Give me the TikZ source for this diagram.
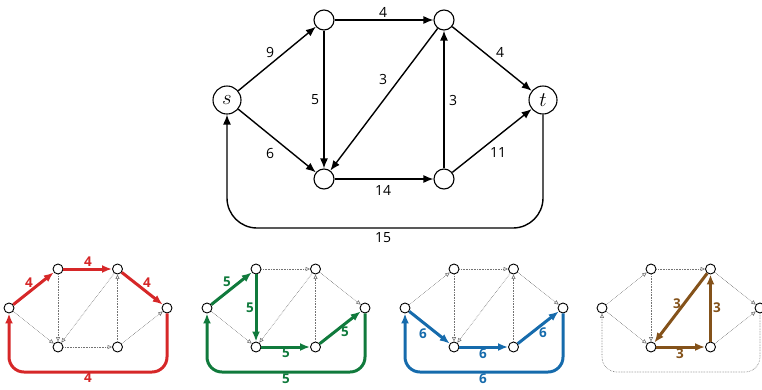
\documentclass[tikz,border=0pt]{standalone}
\usepackage{fontspec}
\setmainfont{Open Sans}
\usetikzlibrary{arrows.meta}

\definecolor{flowred}{RGB}{214,39,40}
\definecolor{flowgreen}{RGB}{16,122,60}
\definecolor{flowblue}{RGB}{22,107,172}
\definecolor{flowbrown}{RGB}{132,82,26}

\begin{document}
\begin{tikzpicture}[x=1pt, y=-1pt,
    vtx/.style={draw=black, fill=white, circle, line width=1.1pt, minimum size=20pt, inner sep=0pt},
    term/.style={vtx, minimum size=28pt, font=\fontsize{20}{22}\selectfont},
    edge/.style={line width=1.4pt, -{Latex[length=10pt,width=8pt]}},
    weight/.style={font=\fontsize{14}{16}\selectfont, inner sep=0pt},
    dot/.style={draw=black, fill=white, circle, line width=0.9pt, minimum size=10pt, inner sep=0pt},
    faint/.style={draw=black!55, line width=0.6pt, densely dotted, -{Triangle[open, length=4.5pt, width=4pt]}},
    flow/.style={line width=3pt, -{Latex[length=10pt,width=8pt]}},
    flowlabel/.style={font=\bfseries\fontsize{13.5}{15}\selectfont, inner sep=0pt}
]
\useasboundingbox (0,0) rectangle (762,389);

% Main network
\node[term] (s) at (227,100) {$s$};
\node[vtx] (a) at (324,20) {};
\node[vtx] (b) at (444,20) {};
\node[term] (t) at (543,100) {$t$};
\node[vtx] (c) at (324,179) {};
\node[vtx] (d) at (444,179) {};
\coordinate (loop) at (385,228);

\draw[edge] (s) -- (a);
\draw[edge] (s) -- (c);
\draw[edge] (a) -- (b);
\draw[edge] (a) -- (c);
\draw[edge] (b) -- (c);
\draw[edge] (d) -- (b);
\draw[edge] (b) -- (t);
\draw[edge] (d) -- (t);
\draw[edge] (c) -- (d);
\draw[edge, rounded corners=30pt] (t) -- (t |- loop) -- (s |- loop) -- (s);

% Capacities
\node[weight] (w-sa) at (270,52) {9};
\node[weight] (w-sc) at (270,153) {6};
\node[weight] (w-ab) at (383,12) {4};
\node[weight] (w-ac) at (315,100) {5};
\node[weight] (w-bc) at (383,79) {3};
\node[weight] (w-db) at (453,100) {3};
\node[weight] (w-bt) at (500,52) {4};
\node[weight] (w-dt) at (498,152) {11};
\node[weight] (w-cd) at (383,190) {14};
\node[weight] (w-ts) at (383,238) {15};

% Cycle 1: red
\begin{scope}[shift={(9,308)}]
\node[dot] (rs) at (0,0) {};
\node[dot] (ra) at (49,-39) {};
\node[dot] (rb) at (108.5,-39) {};
\node[dot] (rt) at (158,0) {};
\node[dot] (rc) at (49,39) {};
\node[dot] (rd) at (108.5,39) {};
\coordinate (rl) at (79,64);

\draw[faint] (rs) -- (rc);
\draw[faint] (ra) -- (rc);
\draw[faint] (rb) -- (rc);
\draw[faint] (rd) -- (rb);
\draw[faint] (rd) -- (rt);
\draw[faint] (rc) -- (rd);

\draw[flow, flowred] (rs) -- (ra);
\draw[flow, flowred] (ra) -- (rb);
\draw[flow, flowred] (rb) -- (rt);
\draw[flow, flowred, rounded corners=15pt] (rt) -- (rt |- rl) -- (rs |- rl) -- (rs);

\node[flowlabel, text=flowred] (rw1) at (20,-25) {4};
\node[flowlabel, text=flowred] (rw2) at (79,-46) {4};
\node[flowlabel, text=flowred] (rw3) at (138,-25) {4};
\node[flowlabel, text=flowred] (rw4) at (79,70) {4};
\end{scope}

% Cycle 2: green
\begin{scope}[shift={(207,308)}]
\node[dot] (gs) at (0,0) {};
\node[dot] (ga) at (49,-39) {};
\node[dot] (gb) at (108.5,-39) {};
\node[dot] (gt) at (158,0) {};
\node[dot] (gc) at (49,39) {};
\node[dot] (gd) at (108.5,39) {};
\coordinate (gl) at (79,64);

\draw[faint] (gs) -- (gc);
\draw[faint] (ga) -- (gb);
\draw[faint] (gb) -- (gc);
\draw[faint] (gd) -- (gb);
\draw[faint] (gb) -- (gt);

\draw[flow, flowgreen] (gs) -- (ga);
\draw[flow, flowgreen] (ga) -- (gc);
\draw[flow, flowgreen] (gc) -- (gd);
\draw[flow, flowgreen] (gd) -- (gt);
\draw[flow, flowgreen, rounded corners=15pt] (gt) -- (gt |- gl) -- (gs |- gl) -- (gs);

\node[flowlabel, text=flowgreen] (gw1) at (20,-26) {5};
\node[flowlabel, text=flowgreen] (gw2) at (43,0) {5};
\node[flowlabel, text=flowgreen] (gw3) at (79,45) {5};
\node[flowlabel, text=flowgreen] (gw4) at (138,24) {5};
\node[flowlabel, text=flowgreen] (gw5) at (79,71) {5};
\end{scope}

% Cycle 3: blue
\begin{scope}[shift={(405,308)}]
\node[dot] (bs) at (0,0) {};
\node[dot] (ba) at (49,-39) {};
\node[dot] (bb) at (108.5,-39) {};
\node[dot] (bt) at (158,0) {};
\node[dot] (bc) at (49,39) {};
\node[dot] (bd) at (108.5,39) {};
\coordinate (bl) at (79,64);

\draw[faint] (bs) -- (ba);
\draw[faint] (ba) -- (bb);
\draw[faint] (ba) -- (bc);
\draw[faint] (bb) -- (bc);
\draw[faint] (bd) -- (bb);
\draw[faint] (bb) -- (bt);

\draw[flow, flowblue] (bs) -- (bc);
\draw[flow, flowblue] (bc) -- (bd);
\draw[flow, flowblue] (bd) -- (bt);
\draw[flow, flowblue, rounded corners=15pt] (bt) -- (bt |- bl) -- (bs |- bl) -- (bs);

\node[flowlabel, text=flowblue] (bw1) at (18,26) {6};
\node[flowlabel, text=flowblue] (bw2) at (78,46) {6};
\node[flowlabel, text=flowblue] (bw3) at (138,25) {6};
\node[flowlabel, text=flowblue] (bw4) at (78,71) {6};
\end{scope}

% Cycle 4: brown
\begin{scope}[shift={(602,308)}]
\node[dot] (ns) at (0,0) {};
\node[dot] (na) at (49,-39) {};
\node[dot] (nb) at (108.5,-39) {};
\node[dot] (nt) at (158,0) {};
\node[dot] (nc) at (49,39) {};
\node[dot] (nd) at (108.5,39) {};
\coordinate (nl) at (79,64);

\draw[faint] (ns) -- (na);
\draw[faint] (ns) -- (nc);
\draw[faint] (na) -- (nb);
\draw[faint] (na) -- (nc);
\draw[faint] (nb) -- (nt);
\draw[faint] (nd) -- (nt);
\draw[faint, rounded corners=15pt] (nt) -- (nt |- nl) -- (ns |- nl) -- (ns);

\draw[flow, flowbrown] (nb) -- (nc);
\draw[flow, flowbrown] (nc) -- (nd);
\draw[flow, flowbrown] (nd) -- (nb);

\node[flowlabel, text=flowbrown] (nw1) at (75,-4) {3};
\node[flowlabel, text=flowbrown] (nw2) at (78,46) {3};
\node[flowlabel, text=flowbrown] (nw3) at (115,0) {3};
\end{scope}

\end{tikzpicture}
\end{document}
